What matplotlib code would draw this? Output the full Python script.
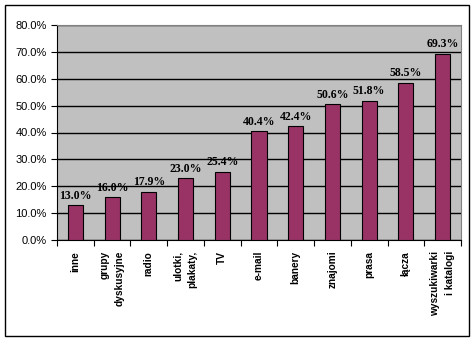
import matplotlib.pyplot as plt
from matplotlib.patches import Rectangle
from matplotlib.ticker import FuncFormatter

categories = ["inne", "grupy\ndyskusyjne", "radio", "ulotki,\nplakaty,", "TV",
              "e-mail", "banery", "znajomi", "prasa", "łącza",
              "wyszukiwarki\ni katalogi"]
values = [13.0, 16.0, 17.9, 23.0, 25.4, 40.4, 42.4, 50.6, 51.8, 58.5, 69.3]

fig = plt.figure(figsize=(4.75, 3.41), dpi=100)
ax = fig.add_axes([57/475, 1 - 240/341, (461-57)/475, (240-25)/341])
ax.set_facecolor("#C0C0C0")

x = list(range(len(values)))
ax.bar(x, values, width=0.41, color="#993366", edgecolor="black", linewidth=0.8, zorder=3)
for xi, v in zip(x, values):
    ax.text(xi, v + 1.3, "%.1f%%" % v, ha="center", va="bottom",
            fontsize=8.5, fontweight="bold", family="Liberation Serif")

ax.set_xlim(-0.5, len(values) - 0.5)
ax.set_ylim(0, 80)
ax.set_yticks(range(0, 81, 10))
ax.yaxis.set_major_formatter(FuncFormatter(lambda v, p: "%.1f%%" % v))
ax.yaxis.grid(True, color="black", linewidth=1, zorder=0)
ax.set_axisbelow(True)
for s in ["top", "right", "left"]:
    ax.spines[s].set_color("#808080")
ax.spines["left"].set_color("black")
ax.spines["bottom"].set_color("black")
ax.tick_params(axis="y", labelsize=8, length=4, direction="out")
for lbl in ax.get_yticklabels():
    lbl.set_family("Liberation Sans")

ax.set_xticks([i - 0.5 for i in range(len(values) + 1)], minor=False)
ax.set_xticklabels([])
ax.tick_params(axis="x", length=4, direction="out")
for xi, c in zip(x, categories):
    ax.text(xi, -4, c, rotation=90, ha="center", va="top", multialignment="right",
            fontsize=7.3, fontweight="bold", family="Liberation Sans", linespacing=1.55)

fig.patches.append(Rectangle((5/475, 5/341), 464/475, 331/341, transform=fig.transFigure,
                             fill=False, edgecolor="black", linewidth=1))
fig.savefig("out.png", dpi=100)
